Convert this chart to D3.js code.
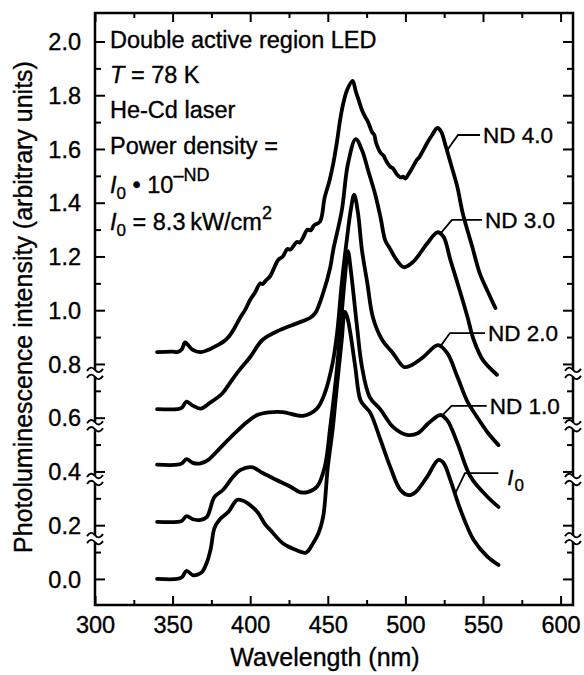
<!DOCTYPE html>
<html>
<head>
<meta charset="utf-8">
<script src="https://cdn.jsdelivr.net/npm/d3@7"></script>
<style>
body { margin: 0; background: #fff; }
text { font-family: "Liberation Sans", Arial, sans-serif; fill: #000; stroke: #000; stroke-width: 0.35px; }
</style>
</head>
<body>
<script>
// spectra: [wavelength nm, intensity as plotted (offset included)]
var i0 = [[340,0.0],[353,0.0],[356,0.006],[359,0.03],[363,0.014],[366,0.016],[369,0.026],[372,0.06],[374.5,0.11],[377,0.19],[380.5,0.222],[386,0.25],[391.5,0.294],[395,0.292],[398,0.283],[404.5,0.25],[410,0.2],[413,0.182],[421,0.133],[430,0.107],[436,0.098],[440.5,0.133],[444,0.17],[447,0.231],[450,0.416],[453,0.55],[455,0.665],[457,0.78],[459,0.89],[461,0.995],[462.5,0.975],[464.5,0.916],[467.7,0.789],[471,0.666],[474.2,0.64],[477.4,0.618],[484,0.517],[490.3,0.416],[496.8,0.331],[502,0.312],[506.5,0.323],[514,0.38],[521.3,0.443],[524.5,0.432],[529,0.368],[535.5,0.257],[544,0.145],[553,0.082],[560,0.052]];
var nd1 = [[340,0.212],[353,0.212],[356,0.216],[359,0.234],[363,0.222],[368,0.22],[372,0.23],[377,0.305],[382.6,0.332],[389,0.38],[393.5,0.405],[401,0.416],[408,0.394],[417,0.368],[426,0.343],[432,0.323],[437,0.323],[443,0.343],[448,0.416],[451.6,0.566],[456,0.788],[459,0.99],[461,1.12],[463,1.22],[464.8,1.15],[466.5,1.064],[469,0.93],[472,0.79],[477,0.677],[484,0.63],[492,0.566],[501,0.536],[508,0.542],[515,0.58],[522.6,0.61],[527,0.59],[533.5,0.506],[542,0.38],[553,0.305],[560,0.268]];
var nd2 = [[340,0.425],[353,0.425],[356,0.43],[359,0.446],[363,0.432],[368,0.43],[373,0.443],[380.6,0.487],[389,0.536],[398,0.584],[404.5,0.61],[412,0.62],[421,0.621],[434,0.607],[443,0.634],[448,0.69],[453,0.8],[456,0.915],[459,1.1],[462,1.25],[465,1.38],[467,1.43],[469.5,1.36],[472,1.224],[475.5,1.1],[479,0.975],[485,0.89],[492,0.84],[499,0.789],[503,0.793],[511.6,0.826],[521,0.87],[527,0.84],[533.5,0.752],[540,0.66],[546,0.604],[553,0.545],[560,0.498]];
var nd3 = [[340,0.632],[353,0.632],[356,0.637],[359,0.66],[363,0.645],[368,0.634],[374,0.655],[382,0.69],[387,0.73],[393,0.777],[400,0.826],[408,0.89],[419,0.926],[430,0.951],[438.7,0.972],[442,0.99],[447,1.064],[451.6,1.16],[453.5,1.224],[459,1.37],[463,1.545],[468,1.637],[472,1.596],[476,1.52],[480.6,1.43],[484,1.345],[487,1.26],[490,1.23],[494,1.19],[499,1.16],[505,1.18],[514,1.248],[520.6,1.29],[524.5,1.274],[529,1.187],[535.5,1.064],[540,0.975],[544,0.89],[550,0.814],[559,0.76]];
var nd4 = [[340,0.844],[350,0.846],[353,0.844],[356,0.855],[358,0.88],[360,0.87],[363,0.852],[368,0.844],[374,0.855],[379,0.87],[383,0.884],[386,0.9],[390,0.935],[393.5,0.972],[397,1.004],[400,1.039],[403,1.065],[406.5,1.1],[408,1.097],[410,1.11],[413,1.128],[416,1.165],[418,1.187],[421,1.2],[424,1.228],[426,1.226],[430,1.254],[432,1.252],[434,1.27],[437,1.3],[439,1.297],[441,1.315],[445,1.33],[448,1.42],[451,1.48],[453.5,1.545],[456,1.63],[458,1.71],[460,1.77],[462.5,1.82],[466,1.853],[468,1.815],[470,1.78],[472,1.745],[474,1.72],[476,1.7],[478.5,1.663],[480,1.652],[481,1.625],[484,1.586],[486,1.575],[487,1.562],[490,1.535],[492,1.528],[494,1.51],[497,1.494],[498.5,1.497],[500,1.49],[502,1.506],[504,1.525],[507.5,1.56],[509,1.57],[511,1.59],[514,1.622],[517,1.65],[520.6,1.678],[523,1.665],[526,1.61],[530,1.53],[533.5,1.458],[537,1.36],[543,1.238],[548,1.136],[553.5,1.064],[558,1.008]];

var spectra = [i0, nd1, nd2, nd3, nd4];
var labelNames = ["I0", "ND 1.0", "ND 2.0", "ND 3.0", "ND 4.0"];
// leader lines: wavelength where the line touches the curve, elbow [wavelength, level], end wavelength
var labelTouch = [532, 523.4, 522.3, 522.3, 526.8];
var labelElbow = [[538.4,0.394],[529.8,0.644],[528.7,0.915],[530,1.336],[533.9,1.652]];
var labelEnd = [559.9, 552.4, 551.3, 549.4, 548.1];

var xMajor = [300,350,400,450,500,550,600];
var xMinor = [325,375,425,475,525,575];
var yMajor = [0,0.2,0.4,0.6,0.8,1.0,1.2,1.4,1.6,1.8,2.0];
var yMinor = [0.1,0.3,0.5,0.7,0.9,1.1,1.3,1.5,1.7,1.9];
var yBreaks = [0.15,0.37,0.57,0.765];

var W = 584, H = 675;
var svg = d3.select("body").append("svg").attr("width", W).attr("height", H);

var x = d3.scaleLinear().domain([300, 608]).range([95, 573]);
var y = d3.scaleLinear().domain([-0.097, 2.106]).range([605, 13]);

function addAxis(axis, tr, tw) {
  var g = svg.append("g").attr("transform", tr).call(axis);
  g.select(".domain").remove();
  g.selectAll(".tick line").attr("stroke", "#000").attr("stroke-width", tw || 2);
  return g;
}

var gb = addAxis(d3.axisBottom(x).tickValues(xMajor).tickSize(-9).tickFormat(d3.format("d")), "translate(0,605)");
gb.selectAll("text").attr("y", 28).attr("dy", 0).attr("font-size", 23.5).attr("fill", "#000");
addAxis(d3.axisBottom(x).tickValues(xMinor).tickSize(-5).tickFormat(""), "translate(0,605)");
addAxis(d3.axisTop(x).tickValues(xMajor).tickSize(-9).tickFormat(""), "translate(0,13)");
addAxis(d3.axisTop(x).tickValues(xMinor).tickSize(-5).tickFormat(""), "translate(0,13)");

var gl = addAxis(d3.axisLeft(y).tickValues(yMajor).tickSize(-10).tickFormat(d3.format(".1f")), "translate(95,0)");
gl.selectAll("text").attr("x", -14).attr("dy", "0.35em").attr("font-size", 23.5).attr("fill", "#000");
addAxis(d3.axisLeft(y).tickValues(yMinor).tickSize(-6).tickFormat(""), "translate(95,0)");
addAxis(d3.axisRight(y).tickValues(yMajor).tickSize(-10).tickFormat(""), "translate(573,0)");
addAxis(d3.axisRight(y).tickValues(yMinor).tickSize(-6).tickFormat(""), "translate(573,0)");

svg.append("rect")
  .attr("x", x.range()[0]).attr("y", y.range()[1])
  .attr("width", x.range()[1] - x.range()[0]).attr("height", y.range()[0] - y.range()[1])
  .attr("fill", "none").attr("stroke", "#000").attr("stroke-width", 2.5);

// axis break marks on both vertical axes
[x.range()[0], x.range()[1]].forEach(function(ax) {
  yBreaks.forEach(function(b) {
    var g = svg.append("g").attr("transform", "translate(" + ax + "," + y(b) + ")");
    g.append("rect").attr("x", -3).attr("y", -3.5).attr("width", 6).attr("height", 7).attr("fill", "#fff");
    [-3.5, 3.5].forEach(function(o) {
      g.append("path").attr("d", "M-8," + (o + 1) + " q4,-6 8,-1 t8,-1")
        .attr("fill", "none").attr("stroke", "#000").attr("stroke-width", 1.9);
    });
  });
});

var line = d3.line().x(function(d) { return x(d[0]); }).y(function(d) { return y(d[1]); })
  .curve(d3.curveCatmullRom.alpha(0.5));

svg.selectAll(".spec").data(spectra).enter().append("path")
  .attr("class", "spec")
  .attr("d", line)
  .attr("fill", "none").attr("stroke", "#000").attr("stroke-width", 3.8)
  .attr("stroke-linejoin", "round").attr("stroke-linecap", "round");

function valueAt(s, w) {
  for (var i = 1; i < s.length; i++) {
    if (s[i][0] >= w) {
      var t = (w - s[i-1][0]) / (s[i][0] - s[i-1][0]);
      return s[i-1][1] + t * (s[i][1] - s[i-1][1]);
    }
  }
  return s[s.length - 1][1];
}

labelNames.forEach(function(name, i) {
  var t = labelTouch[i], e = labelElbow[i];
  svg.append("path")
    .attr("d", d3.line()([[x(t), y(valueAt(spectra[i], t))], [x(e[0]), y(e[1])], [x(labelEnd[i]), y(e[1])]]))
    .attr("fill", "none").attr("stroke", "#000").attr("stroke-width", 1.8);
  var tx = svg.append("text").attr("font-size", 22.5);
  if (name === "I0") {
    tx.attr("x", x(labelEnd[i]) + 9).attr("y", y(e[1]) + 12);
    tx.append("tspan").attr("font-style", "italic").text("I");
    tx.append("tspan").attr("font-size", 17).attr("dy", 6).attr("dx", 1).text("0");
  } else {
    tx.attr("x", x(labelEnd[i]) + 3).attr("y", y(e[1])).attr("dy", "0.36em").text(name);
  }
});

// annotation block
var ann = svg.append("g").attr("font-size", 23.5);
ann.append("text").attr("x", 110).attr("y", 48).text("Double active region LED");
var t2 = ann.append("text").attr("x", 110).attr("y", 83);
t2.append("tspan").attr("font-style", "italic").text("T");
t2.append("tspan").text(" = 78 K");
ann.append("text").attr("x", 110).attr("y", 118).text("He-Cd laser");
ann.append("text").attr("x", 110).attr("y", 154).text("Power density =");
var t5 = ann.append("text").attr("x", 110).attr("y", 193);
t5.append("tspan").attr("font-style", "italic").text("I");
t5.append("tspan").attr("font-size", 17).attr("dy", 6).text("0");
t5.append("tspan").attr("dy", -6).text(" \u2022 10");
t5.append("tspan").attr("font-size", 18).attr("dy", -12).text("\u2013ND");
var t6 = ann.append("text").attr("x", 110).attr("y", 230);
t6.append("tspan").attr("font-style", "italic").text("I");
t6.append("tspan").attr("font-size", 17).attr("dy", 6).text("0");
t6.append("tspan").attr("dy", -6).text(" = 8.3\u2009kW/cm");
t6.append("tspan").attr("font-size", 18).attr("dy", -11).text("2");

svg.append("text").attr("transform", "translate(32,307) rotate(-90)")
  .attr("text-anchor", "middle").attr("font-size", 25)
  .text("Photoluminescence intensity  (arbitrary units)");
svg.append("text").attr("x", 325).attr("y", 666)
  .attr("text-anchor", "middle").attr("font-size", 25)
  .text("Wavelength (nm)");
</script>
</body>
</html>
